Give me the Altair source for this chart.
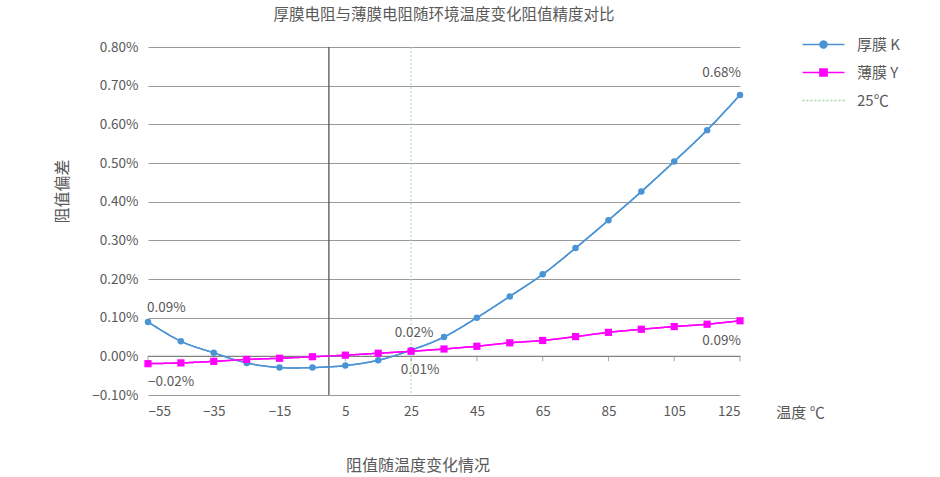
import altair as alt
import pandas as pd

# ---------------- data ----------------
temps = [-55, -45, -35, -25, -15, -5, 5, 15, 25, 35, 45, 55, 65, 75, 85, 95, 105, 115, 125]
thick_k = [0.089, 0.039, 0.009, -0.017, -0.029, -0.029, -0.024, -0.010, 0.016, 0.050,
           0.100, 0.155, 0.212, 0.280, 0.352, 0.426, 0.504, 0.585, 0.676]
thin_y = [-0.019, -0.017, -0.013, -0.008, -0.005, -0.001, 0.003, 0.008, 0.013, 0.019,
          0.026, 0.035, 0.041, 0.051, 0.062, 0.070, 0.077, 0.083, 0.092]
series_names = ["厚膜 K", "薄膜 Y", "25℃"]
series_colors = ["#4a94d6", "#ff00ff", "#9fd89f"]
ref_temp = [25]
zero_line = [0]
x_ticks = [-55, -35, -15, 5, 25, 45, 65, 85, 105, 125]
y_ticks = [-0.1, 0.0, 0.1, 0.2, 0.3, 0.4, 0.5, 0.6, 0.7, 0.8]
title_text = "厚膜电阻与薄膜电阻随环境温度变化阻值精度对比"
x_title = "温度 ℃"
y_title = "阻值偏差"
caption = "阻值随温度变化情况"

FONT = "Noto Sans CJK SC"
TXT = "#595959"
GRID = "#9a9a9a"

df_k = pd.DataFrame({"temp": temps, "value": thick_k, "series": series_names[0]})
df_y = pd.DataFrame({"temp": temps, "value": thin_y, "series": series_names[1]})
df_lines = pd.concat([df_k, df_y], ignore_index=True)
df_ref = pd.DataFrame({"temp": ref_temp, "series": series_names[2]})
df_series = pd.DataFrame({"series": series_names})
df_zero = pd.DataFrame({"v": zero_line})
df_ticks = pd.DataFrame({"t": x_ticks})
df_caption = pd.DataFrame({"c": [caption]})

# ---------------- scales ----------------
x_scale = alt.Scale(domain=[-55, 125], nice=False, zero=False)
y_scale = alt.Scale(domain=[-0.1, 0.8], nice=False, zero=False)
color_scale = alt.Scale(domain=series_names, range=series_colors)
dash_scale = alt.Scale(domain=series_names, range=[[1, 0], [1, 0], [2, 2]])
shape_scale = alt.Scale(
    domain=series_names,
    range=[
        "M-4.2,0H4.2M0.7,0A0.7,0.7,0,1,1,-0.7,0A0.7,0.7,0,1,1,0.7,0Z",
        "M-4.2,0H4.2M-0.72,-0.72H0.72V0.72H-0.72Z",
        "M-4.2,0H4.2",
    ],
)

legend = alt.Legend(
    orient="none", legendX=668, legendY=-10, title=None,
    symbolSize=100, symbolStrokeWidth=1.5, labelOffset=26, rowPadding=12,
    labelFont=FONT, labelFontSize=15, labelColor=TXT, padding=0,
)

x_axis = alt.Axis(
    values=x_ticks, tickCount=20, grid=False, domain=False, ticks=False, tickSize=0,
    labelOverlap=False,
    labelPadding=9, labelFont=FONT, labelFontSize=13.5, labelColor=TXT,
    title=x_title, titleFont=FONT, titleFontSize=15, titleFontWeight="normal",
    titleColor=TXT, titleX=652, titleY=17, titleAngle=0, titleAlign="center",
    titleBaseline="middle",
)
y_axis = alt.Axis(
    values=y_ticks, tickCount=20, grid=True, gridColor=GRID, gridWidth=1.2, domain=False,
    ticks=False, tickSize=0, labelPadding=10, labelOverlap=False,
    labelExpr="format(datum.value, '.2f') + '%'",
    labelFont=FONT, labelFontSize=13.5, labelColor=TXT,
    title=y_title, titleFont=FONT, titleFontSize=16, titleFontWeight="normal",
    titleColor=TXT, titleX=-86, titleY=144, titleAlign="center",
    titleBaseline="middle",
)

X = alt.X("temp:Q", scale=x_scale, axis=x_axis)
Y = alt.Y("value:Q", scale=y_scale, axis=y_axis)

lines = alt.Chart(df_lines).mark_line(interpolate="catmull-rom", strokeWidth=1.5).encode(
    x=X, y=Y,
    color=alt.Color("series:N", scale=color_scale, legend=legend),
    strokeDash=alt.StrokeDash("series:N", scale=dash_scale, legend=legend),
)

ref_rule = alt.Chart(df_ref).mark_rule(strokeWidth=1).encode(
    x=alt.X("temp:Q", scale=x_scale),
    color=alt.Color("series:N", scale=color_scale, legend=legend),
    strokeDash=alt.StrokeDash("series:N", scale=dash_scale, legend=legend),
)

legend_layer = alt.Chart(df_series).transform_filter("false").mark_point(
    filled=True, strokeWidth=1.5, opacity=1
).encode(
    color=alt.Color("series:N", scale=color_scale, legend=legend),
    shape=alt.Shape("series:N", scale=shape_scale, legend=legend),
)

h_zero = alt.Chart(df_zero).mark_rule(color="#808080", strokeWidth=1.2).encode(
    y=alt.Y("v:Q", scale=y_scale)
)
v_zero = alt.Chart(df_zero).mark_rule(color="#555555", strokeWidth=1.3).encode(
    x=alt.X("v:Q", scale=x_scale)
)
tick_marks = alt.Chart(df_ticks).mark_tick(
    orient="vertical", size=5, thickness=1, yOffset=2.5, color="#808080"
).encode(x=alt.X("t:Q", scale=x_scale), y=alt.datum(0))

pts_k = alt.Chart(df_k).mark_circle(size=42, opacity=1, color=series_colors[0]).encode(
    x=alt.X("temp:Q", scale=x_scale), y=alt.Y("value:Q", scale=y_scale)
)
pts_y = alt.Chart(df_y).mark_square(size=52, opacity=1, color=series_colors[1]).encode(
    x=alt.X("temp:Q", scale=x_scale), y=alt.Y("value:Q", scale=y_scale)
)


def label(df, t, align, dx, dy):
    return alt.Chart(df).transform_filter(f"datum.temp == {t}").transform_calculate(
        lab="format(datum.value, '.2f') + '%'"
    ).mark_text(
        align=align, baseline="middle", dx=dx, dy=dy,
        font=FONT, fontSize=13.5, color=TXT,
    ).encode(
        x=alt.X("temp:Q", scale=x_scale), y=alt.Y("value:Q", scale=y_scale), text="lab:N"
    )


labels = [
    label(df_k, -55, "left", -1, -14),
    label(df_y, -55, "left", 0, 18),
    label(df_k, 25, "center", 3, -17),
    label(df_y, 25, "center", 9, 19),
    label(df_k, 125, "right", 1, -22),
    label(df_y, 125, "right", 1, 20),
]

cap = alt.Chart(df_caption).mark_text(
    font=FONT, fontSize=16, color=TXT, align="center", baseline="middle"
).encode(x=alt.value(270), y=alt.value(419), text="c:N")

chart = alt.layer(
    lines, h_zero, v_zero, ref_rule, tick_marks, lines, pts_k, pts_y, legend_layer,
    *labels, cap,
).properties(
    width=592, height=348,
    autosize=alt.AutoSizeParams(type="none"),
    padding={"left": 148, "top": 47, "right": 200, "bottom": 82},
    title=alt.TitleParams(
        title_text, font=FONT, fontSize=15.5, fontWeight="normal", color=TXT,
        anchor="middle", offset=14,
    ),
).configure_view(stroke=None)

chart.save("out.html", embed_options={"renderer": "svg", "actions": False})
